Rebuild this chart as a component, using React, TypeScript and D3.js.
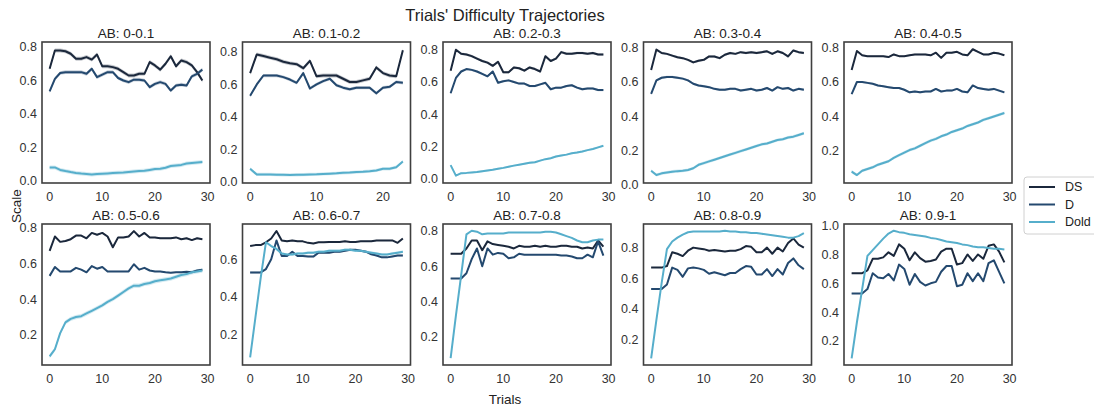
import React from 'react'
import * as d3 from 'd3'

const WIDTH = 1094
const HEIGHT = 410
const PANEL_W = 168
const PANEL_H = 141
const COL_X = [42, 242.5, 443, 643.5, 844]
const ROW_Y = [42, 224]

const FONT = '"Liberation Sans", Arial, "DejaVu Sans", sans-serif'

const panelTitles = [
  'AB: 0-0.1', 'AB: 0.1-0.2', 'AB: 0.2-0.3', 'AB: 0.3-0.4', 'AB: 0.4-0.5',
  'AB: 0.5-0.6', 'AB: 0.6-0.7', 'AB: 0.7-0.8', 'AB: 0.8-0.9', 'AB: 0.9-1'
]
const seriesNames = ['DS', 'D', 'Dold']
const seriesColors = ['#1b283c', '#24496f', '#56aecb']
const xTickValues = [0, 10, 20, 30]
const yTickValues = [0, 0.2, 0.4, 0.6, 0.8, 1.0]

// mean trajectory per panel
const dsValues = [
  [0.67, 0.78, 0.78, 0.775, 0.76, 0.73, 0.73, 0.74, 0.725, 0.755, 0.685, 0.685, 0.68, 0.67, 0.65, 0.63, 0.63, 0.64, 0.64, 0.71, 0.69, 0.665, 0.70, 0.745, 0.685, 0.72, 0.71, 0.69, 0.65, 0.60],
  [0.67, 0.785, 0.775, 0.765, 0.755, 0.74, 0.73, 0.725, 0.70, 0.745, 0.65, 0.655, 0.655, 0.655, 0.635, 0.615, 0.615, 0.625, 0.635, 0.705, 0.67, 0.655, 0.65, 0.81],
  [0.67, 0.80, 0.775, 0.77, 0.76, 0.745, 0.73, 0.72, 0.70, 0.725, 0.66, 0.66, 0.69, 0.685, 0.67, 0.69, 0.68, 0.665, 0.76, 0.73, 0.745, 0.785, 0.775, 0.775, 0.78, 0.78, 0.775, 0.78, 0.77, 0.77],
  [0.67, 0.79, 0.77, 0.765, 0.755, 0.745, 0.74, 0.73, 0.715, 0.725, 0.73, 0.75, 0.75, 0.74, 0.76, 0.77, 0.765, 0.775, 0.77, 0.775, 0.77, 0.775, 0.78, 0.765, 0.78, 0.77, 0.75, 0.785, 0.775, 0.77],
  [0.67, 0.78, 0.755, 0.75, 0.75, 0.75, 0.75, 0.745, 0.76, 0.75, 0.75, 0.755, 0.76, 0.76, 0.76, 0.755, 0.77, 0.74, 0.77, 0.77, 0.775, 0.76, 0.755, 0.79, 0.775, 0.76, 0.76, 0.77, 0.765, 0.755],
  [0.67, 0.75, 0.72, 0.725, 0.735, 0.755, 0.755, 0.74, 0.77, 0.76, 0.77, 0.75, 0.69, 0.745, 0.745, 0.75, 0.78, 0.75, 0.77, 0.745, 0.745, 0.74, 0.74, 0.74, 0.745, 0.735, 0.74, 0.73, 0.74, 0.735],
  [0.67, 0.675, 0.675, 0.69, 0.71, 0.75, 0.70, 0.695, 0.70, 0.695, 0.695, 0.687, 0.684, 0.69, 0.69, 0.692, 0.692, 0.692, 0.695, 0.692, 0.692, 0.695, 0.695, 0.695, 0.70, 0.70, 0.70, 0.70, 0.687, 0.71],
  [0.67, 0.67, 0.67, 0.70, 0.745, 0.745, 0.69, 0.74, 0.725, 0.72, 0.715, 0.71, 0.70, 0.715, 0.71, 0.71, 0.715, 0.71, 0.715, 0.71, 0.71, 0.715, 0.715, 0.71, 0.71, 0.70, 0.705, 0.70, 0.745, 0.71],
  [0.67, 0.67, 0.67, 0.68, 0.77, 0.76, 0.745, 0.78, 0.80, 0.795, 0.79, 0.78, 0.785, 0.78, 0.775, 0.78, 0.78, 0.79, 0.81, 0.805, 0.77, 0.77, 0.80, 0.76, 0.80, 0.775, 0.83, 0.86, 0.82, 0.80],
  [0.67, 0.67, 0.67, 0.69, 0.77, 0.77, 0.78, 0.815, 0.79, 0.87, 0.84, 0.76, 0.815, 0.775, 0.75, 0.755, 0.765, 0.82, 0.84, 0.84, 0.73, 0.74, 0.80, 0.755, 0.80, 0.77, 0.86, 0.87, 0.82, 0.745]
]

const dValues = [
  [0.535, 0.61, 0.645, 0.65, 0.65, 0.65, 0.65, 0.64, 0.67, 0.62, 0.635, 0.65, 0.65, 0.615, 0.60, 0.59, 0.605, 0.605, 0.60, 0.56, 0.58, 0.59, 0.58, 0.54, 0.57, 0.575, 0.57, 0.625, 0.64, 0.665],
  [0.53, 0.60, 0.655, 0.655, 0.655, 0.645, 0.63, 0.61, 0.67, 0.575, 0.60, 0.62, 0.635, 0.595, 0.58, 0.57, 0.58, 0.58, 0.58, 0.545, 0.58, 0.585, 0.615, 0.61],
  [0.53, 0.625, 0.665, 0.68, 0.675, 0.665, 0.65, 0.635, 0.665, 0.595, 0.605, 0.61, 0.60, 0.59, 0.59, 0.575, 0.575, 0.585, 0.595, 0.555, 0.565, 0.565, 0.575, 0.58, 0.565, 0.555, 0.56, 0.56, 0.55, 0.55],
  [0.53, 0.61, 0.625, 0.63, 0.63, 0.625, 0.62, 0.61, 0.59, 0.58, 0.575, 0.57, 0.56, 0.555, 0.555, 0.56, 0.56, 0.55, 0.555, 0.56, 0.55, 0.555, 0.565, 0.55, 0.57, 0.56, 0.565, 0.55, 0.56, 0.555],
  [0.53, 0.60, 0.60, 0.595, 0.59, 0.58, 0.575, 0.57, 0.565, 0.565, 0.555, 0.54, 0.545, 0.54, 0.545, 0.545, 0.56, 0.545, 0.55, 0.55, 0.56, 0.545, 0.54, 0.58, 0.565, 0.56, 0.555, 0.56, 0.55, 0.54],
  [0.53, 0.58, 0.555, 0.555, 0.555, 0.575, 0.565, 0.55, 0.585, 0.57, 0.58, 0.555, 0.555, 0.555, 0.555, 0.555, 0.595, 0.565, 0.575, 0.56, 0.555, 0.555, 0.55, 0.548, 0.55, 0.55, 0.553, 0.55, 0.56, 0.565],
  [0.53, 0.53, 0.53, 0.548, 0.60, 0.70, 0.617, 0.617, 0.64, 0.617, 0.617, 0.615, 0.614, 0.635, 0.635, 0.635, 0.64, 0.64, 0.645, 0.65, 0.65, 0.645, 0.64, 0.626, 0.62, 0.61, 0.61, 0.615, 0.62, 0.62],
  [0.53, 0.53, 0.53, 0.56, 0.64, 0.70, 0.60, 0.70, 0.665, 0.675, 0.67, 0.645, 0.65, 0.67, 0.665, 0.665, 0.665, 0.665, 0.665, 0.665, 0.665, 0.66, 0.66, 0.655, 0.645, 0.645, 0.665, 0.65, 0.74, 0.66],
  [0.53, 0.53, 0.53, 0.56, 0.67, 0.655, 0.61, 0.665, 0.67, 0.665, 0.655, 0.63, 0.64, 0.63, 0.62, 0.635, 0.635, 0.66, 0.68, 0.675, 0.625, 0.625, 0.66, 0.615, 0.66, 0.625, 0.70, 0.73, 0.685, 0.66],
  [0.53, 0.53, 0.53, 0.56, 0.67, 0.64, 0.635, 0.665, 0.62, 0.73, 0.70, 0.59, 0.665, 0.61, 0.585, 0.60, 0.61, 0.68, 0.72, 0.72, 0.58, 0.59, 0.67, 0.615, 0.67, 0.615, 0.74, 0.76, 0.68, 0.60]
]

const doldValues = [
  [0.08, 0.08, 0.065, 0.058, 0.052, 0.047, 0.043, 0.04, 0.037, 0.04, 0.042, 0.044, 0.046, 0.048, 0.05, 0.053, 0.056, 0.058, 0.06, 0.065, 0.07, 0.072, 0.078, 0.088, 0.092, 0.095, 0.103, 0.107, 0.11, 0.112],
  [0.08, 0.045, 0.045, 0.045, 0.044, 0.043, 0.042, 0.043, 0.044, 0.045, 0.046, 0.048, 0.05, 0.052, 0.055, 0.057, 0.06, 0.062, 0.065, 0.07, 0.08, 0.08, 0.09, 0.125],
  [0.085, 0.02, 0.035, 0.037, 0.04, 0.042, 0.047, 0.052, 0.057, 0.063, 0.068, 0.075, 0.082, 0.088, 0.094, 0.10, 0.103, 0.113, 0.122, 0.128, 0.138, 0.145, 0.15, 0.158, 0.163, 0.17, 0.178, 0.185, 0.195, 0.205],
  [0.08, 0.055, 0.065, 0.07, 0.075, 0.078, 0.08, 0.085, 0.095, 0.115, 0.125, 0.135, 0.145, 0.155, 0.165, 0.175, 0.185, 0.195, 0.205, 0.215, 0.225, 0.235, 0.24, 0.25, 0.26, 0.265, 0.275, 0.28, 0.29, 0.30],
  [0.08, 0.06, 0.085, 0.095, 0.105, 0.12, 0.13, 0.14, 0.16, 0.175, 0.19, 0.205, 0.215, 0.23, 0.245, 0.26, 0.27, 0.285, 0.295, 0.31, 0.32, 0.33, 0.345, 0.355, 0.365, 0.38, 0.39, 0.40, 0.41, 0.42],
  [0.08, 0.12, 0.21, 0.27, 0.29, 0.30, 0.305, 0.32, 0.335, 0.35, 0.365, 0.385, 0.40, 0.42, 0.44, 0.46, 0.475, 0.475, 0.485, 0.49, 0.50, 0.505, 0.51, 0.515, 0.525, 0.535, 0.54, 0.55, 0.555, 0.56],
  [0.08, 0.29, 0.50, 0.69, 0.67, 0.655, 0.63, 0.625, 0.625, 0.63, 0.63, 0.635, 0.635, 0.64, 0.64, 0.645, 0.645, 0.645, 0.65, 0.65, 0.645, 0.645, 0.64, 0.635, 0.63, 0.625, 0.625, 0.63, 0.635, 0.64],
  [0.08, 0.32, 0.55, 0.78, 0.80, 0.795, 0.78, 0.785, 0.785, 0.785, 0.785, 0.79, 0.79, 0.79, 0.79, 0.79, 0.79, 0.79, 0.795, 0.795, 0.79, 0.78, 0.77, 0.76, 0.745, 0.735, 0.735, 0.745, 0.75, 0.75],
  [0.08, 0.33, 0.57, 0.79, 0.84, 0.865, 0.885, 0.90, 0.905, 0.905, 0.905, 0.905, 0.905, 0.905, 0.91, 0.905, 0.905, 0.90, 0.90, 0.895, 0.895, 0.89, 0.885, 0.88, 0.875, 0.87, 0.865, 0.865, 0.875, 0.895],
  [0.08, 0.33, 0.56, 0.79, 0.83, 0.87, 0.91, 0.945, 0.965, 0.955, 0.95, 0.94, 0.935, 0.93, 0.925, 0.915, 0.91, 0.90, 0.89, 0.885, 0.88, 0.87, 0.865, 0.855, 0.85, 0.85, 0.845, 0.84, 0.84, 0.835]
]

// half width of the confidence band, per panel: [DS, D, Dold]
const ciHalfWidths = [
  [0.012, 0.011, 0.012],
  [0.012, 0.01, 0.01],
  [0.008, 0.007, 0.006],
  [0.007, 0.007, 0.009],
  [0.005, 0.006, 0.009],
  [0.004, 0.004, 0.012],
  [0.003, 0.005, 0.007],
  [0.002, 0.002, 0.002],
  [0.002, 0.002, 0.002],
  [0.002, 0.002, 0.002]
]

const seriesByPanel = (p: number) => [dsValues[p], dValues[p], doldValues[p]]

const Panel = ({ index }: { index: number }) => {
  const left = COL_X[index % 5]
  const top = ROW_Y[Math.floor(index / 5)]
  const series = seriesByPanel(index)
  const n = series[0].length
  const ci = ciHalfWidths[index]

  const x = d3
    .scaleLinear()
    .domain([-(n - 1) * 0.05, (n - 1) * 1.05])
    .range([left, left + PANEL_W])

  // matplotlib style autoscale: data extent plus 5% margins
  const lo = d3.min(series.map((s, k) => d3.min(s)! - ci[k]))!
  const hi = d3.max(series.map((s, k) => d3.max(s)! + ci[k]))!
  const pad = (hi - lo) * 0.05
  const y = d3
    .scaleLinear()
    .domain([lo - pad, hi + pad])
    .range([top + PANEL_H, top])

  const [y0, y1] = y.domain()
  const yTicks = yTickValues.filter(t => t >= y0 - 0.012 && t <= y1 + 0.001)
  const xTicks = xTickValues.filter(t => t <= x.domain()[1])

  const line = d3
    .line<number>()
    .x((_, i) => x(i))
    .y(d => y(d))

  const clipId = `clip-${index}`

  return (
    <g>
      <defs>
        <clipPath id={clipId}>
          <rect x={left} y={top} width={PANEL_W} height={PANEL_H} />
        </clipPath>
      </defs>
      <g clipPath={`url(#${clipId})`}>
        {series.map((s, k) => {
          const band = d3
            .area<number>()
            .x((_, i) => x(i))
            .y0(d => y(d - ci[k]))
            .y1(d => y(d + ci[k]))
          return (
            <path key={'b' + k} d={band(s) || ''} fill={seriesColors[k]} fillOpacity={0.25} stroke="none" />
          )
        })}
        {series.map((s, k) => (
          <path
            key={'l' + k}
            d={line(s) || ''}
            fill="none"
            stroke={seriesColors[k]}
            strokeWidth={2}
            strokeLinejoin="round"
          />
        ))}
      </g>
      <rect x={left} y={top} width={PANEL_W} height={PANEL_H} fill="none" stroke="#3f3f3f" strokeWidth={1.6} />
      {yTicks.map(t => (
        <text
          key={'y' + t}
          x={left - 5}
          y={y(t)}
          dy="0.35em"
          textAnchor="end"
          fontSize={12.5}
          fill="#333"
        >
          {t.toFixed(1)}
        </text>
      ))}
      {xTicks.map(t => (
        <text
          key={'x' + t}
          x={x(t)}
          y={top + PANEL_H + 18}
          textAnchor="middle"
          fontSize={12.5}
          fill="#333"
        >
          {t}
        </text>
      ))}
      <text x={left + PANEL_W / 2} y={top - 4} textAnchor="middle" fontSize={13.5} fill="#222">
        {panelTitles[index]}
      </text>
    </g>
  )
}

const Legend = () => (
  <g>
    <rect x={1024} y={177} width={80} height={57} rx={3} fill="#fff" stroke="#d0d0d0" strokeWidth={1} />
    {seriesNames.map((name, k) => (
      <g key={name}>
        <line x1={1029} x2={1055} y1={187 + k * 17.5} y2={187 + k * 17.5} stroke={seriesColors[k]} strokeWidth={2} />
        <text x={1065} y={187 + k * 17.5} dy="0.35em" fontSize={12.5} fill="#222">
          {name}
        </text>
      </g>
    ))}
  </g>
)

export default function App() {
  return (
    <svg
      width={WIDTH}
      height={HEIGHT}
      style={{ position: 'absolute', left: 0, top: 0, background: '#fff' }}
      fontFamily={FONT}
    >
      <text x={505} y={21} textAnchor="middle" fontSize={16.5} fill="#222">
        Trials' Difficulty Trajectories
      </text>
      {panelTitles.map((_, i) => (
        <Panel key={i} index={i} />
      ))}
      <text x={505} y={404} textAnchor="middle" fontSize={13.5} fill="#222">
        Trials
      </text>
      <text transform="translate(21,206) rotate(-90)" textAnchor="middle" fontSize={13.5} fill="#222">
        Scale
      </text>
      <Legend />
    </svg>
  )
}
